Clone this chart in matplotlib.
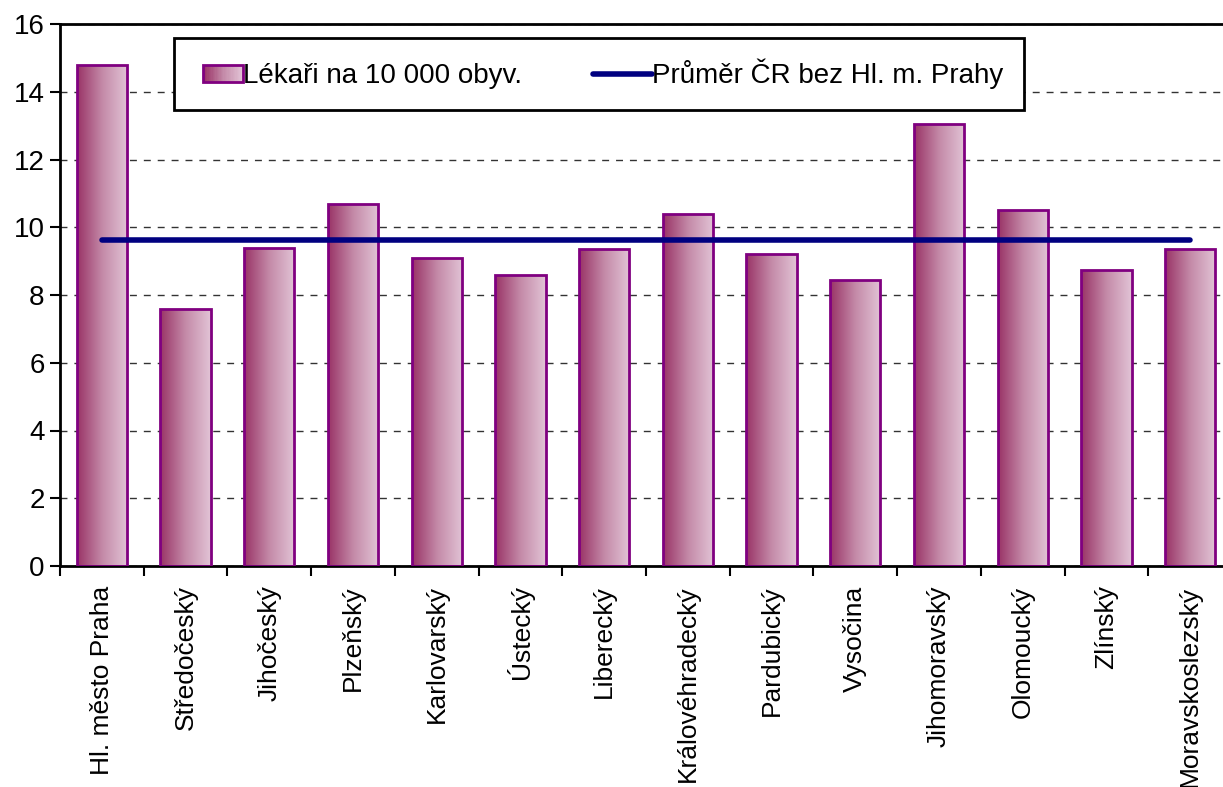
import numpy as np
import matplotlib
matplotlib.use('Agg')
import matplotlib.pyplot as plt
from matplotlib.patches import Rectangle
from matplotlib.lines import Line2D
from matplotlib.legend_handler import HandlerBase
from matplotlib.colors import LinearSegmentedColormap

plt.rcParams['font.family'] = ['Liberation Sans', 'DejaVu Sans']

# data
regions = ['Hl. město Praha', 'Středočeský', 'Jihočeský', 'Plzeňský', 'Karlovarský',
           'Ústecký', 'Liberecký', 'Královéhradecký', 'Pardubický', 'Vysočina',
           'Jihomoravský', 'Olomoucký', 'Zlínský', 'Moravskoslezský']
doctors = [14.8, 7.6, 9.4, 10.7, 9.1, 8.6, 9.35, 10.4, 9.2, 8.45, 13.05, 10.5, 8.75, 9.35]
avg_without_prague = 9.62
bar_label = 'Lékaři na 10 000 obyv.'
line_label = 'Průměr ČR bez Hl. m. Prahy'

grad = LinearSegmentedColormap.from_list('plum', ['#993366', '#c48aa8', '#e2c4d6'])
edge = '#800080'
navy = '#000080'


class GradientHandler(HandlerBase):
    '''legend handle drawn as vertical strips of the gradient'''
    def create_artists(self, legend, orig_handle, xdescent, ydescent, width, height, fontsize, trans):
        arts = []
        n = 30
        x0 = -xdescent + 6
        for k in range(n):
            r = Rectangle((x0 + width * k / n, -ydescent), width / n + 0.3, height,
                          facecolor=grad(k / (n - 1)), edgecolor='none', transform=trans)
            arts.append(r)
        arts.append(Rectangle((x0, -ydescent), width, height, facecolor='none',
                              edgecolor=edge, linewidth=2, transform=trans))
        return arts


class LongLineHandler(HandlerBase):
    '''line handle a bit longer than the box handle (reaches to the left)'''
    def create_artists(self, legend, orig_handle, xdescent, ydescent, width, height, fontsize, trans):
        y = -ydescent + height / 2
        ln = Line2D([-xdescent - 7, -xdescent + width + 6], [y, y], color=navy, linewidth=4,
                    solid_capstyle='round', transform=trans)
        return [ln]


fig = plt.figure(figsize=(12.23, 7.87), dpi=100)
ax = fig.add_axes([60 / 1223, 1 - 566 / 787, (1232 - 60) / 1223, (566 - 24) / 787])

x = np.arange(len(regions))
bars = ax.bar(x, doctors, width=0.6, facecolor='none', edgecolor=edge, linewidth=2, zorder=3)

# gradient fill inside each bar
gimg = np.linspace(0, 1, 256).reshape(1, -1)
for b in bars:
    x0, y0 = b.get_x(), b.get_y()
    w, h = b.get_width(), b.get_height()
    im = ax.imshow(gimg, cmap=grad, aspect='auto', extent=(x0, x0 + w, y0, y0 + h),
                   zorder=2, interpolation='bilinear')
    im.set_clip_path(b)

avg_line, = ax.plot([x[0], x[-1]], [avg_without_prague] * 2, color=navy, linewidth=4,
                    solid_capstyle='round', zorder=4)

ax.set_xlim(-0.5, len(regions) - 0.5)
ax.set_ylim(0, 16)
ax.set_yticks(np.arange(0, 17, 2))
ax.yaxis.grid(True, linestyle=(0, (5, 5)), color='#333333', linewidth=1)
ax.set_axisbelow(True)

ax.set_xticks(x)
ax.set_xticklabels(regions, rotation=90, fontsize=19)
ax.tick_params(axis='x', length=0, pad=14)
ax.set_xticks(np.arange(len(regions) + 1) - 0.5, minor=True)
ax.tick_params(axis='x', which='minor', length=7, width=1.5, direction='out')
ax.tick_params(axis='y', labelsize=20, length=7, width=1.5, direction='out', pad=4)
for s in ax.spines.values():
    s.set_linewidth(2)
    s.set_color('black')

# legend
bar_handle = Rectangle((0, 0), 1, 1)
leg = ax.legend([bar_handle, avg_line], [bar_label, line_label], ncol=2,
                handler_map={Rectangle: GradientHandler(), Line2D: LongLineHandler()},
                fontsize=20, loc='upper left', bbox_to_anchor=(174 / 1223, 1 - 38 / 787),
                bbox_transform=fig.transFigure, borderaxespad=0, fancybox=False,
                edgecolor='black', framealpha=1, borderpad=0.75,
                handlelength=1.45, handleheight=0.55, handletextpad=0.3, columnspacing=2.9)
leg.get_frame().set_linewidth(2)
leg.set_zorder(5)

fig.savefig('out.png', dpi=100)
